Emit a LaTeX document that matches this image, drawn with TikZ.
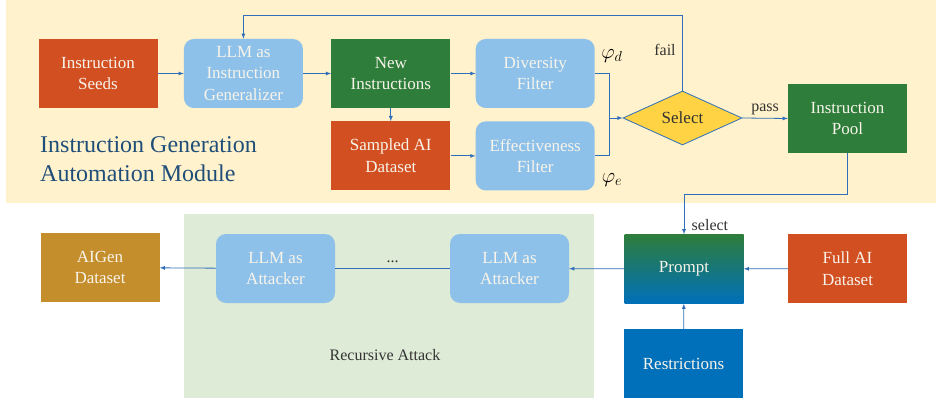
\documentclass[tikz,border=0pt]{standalone}
\usepackage{fontspec}
\setmainfont{Liberation Serif}
\usetikzlibrary{shapes.geometric, positioning}

\definecolor{seedred}{HTML}{D24F22}
\definecolor{llmblue}{HTML}{8EC1E9}
\definecolor{newgreen}{HTML}{2E7D3B}
\definecolor{aigold}{HTML}{C48E2C}
\definecolor{restblue}{HTML}{0070BA}
\definecolor{promptteal}{HTML}{0E7A6C}
\definecolor{bgyellow}{HTML}{FFF2CC}
\definecolor{bggreen}{HTML}{DEEBD6}
\definecolor{selyellow}{HTML}{FFD343}
\definecolor{linkblue}{HTML}{2F6EBA}
\definecolor{boxtext}{HTML}{F8F4EA}
\definecolor{titleblue}{HTML}{1F4E79}
\definecolor{labelgray}{HTML}{333333}

\tikzset{
	box/.style={minimum width=119pt, minimum height=69pt, inner sep=2pt, align=center,
		text=boxtext, font=\fontsize{17}{21.5}\selectfont},
	redbox/.style={box, fill=seedred},
	greenbox/.style={box, fill=newgreen},
	llmbox/.style={box, fill=llmblue, rounded corners=10pt},
	link/.style={draw=linkblue, line width=0.8pt},
	lbl/.style={text=labelgray, font=\fontsize{16}{19}\selectfont},
	phi/.style={text=black, font=\fontsize{20}{22}\selectfont}
}

\begin{document}
\begin{tikzpicture}[x=1pt, y=-1pt, >=latex, node distance=26pt]

	\useasboundingbox (0,0) rectangle (936,406);
	\fill[bgyellow] (6,0) rectangle (936,203);
	\fill[bggreen] (184,214) rectangle (594,398);

	% instruction generation
	\node[redbox] (seeds) at (98,73.5) {Instruction\\Seeds};
	\node[llmbox, right=of seeds] (gen) {LLM as\\Instruction\\Generalizer};
	\node[greenbox, right=28pt of gen] (newins) {New\\Instructions};
	\node[redbox, below=13pt of newins] (sampled) {Sampled AI\\Dataset};
	\node[llmbox, right=25pt of newins] (div) {Diversity\\Filter};
	\node[llmbox, below=13pt of div] (eff) {Effectiveness\\Filter};
	\node[diamond, aspect=2.2, minimum width=119pt, minimum height=54pt, inner sep=0pt,
		fill=selyellow, draw=linkblue, line width=0.8pt, text=labelgray,
		font=\fontsize{17}{20}\selectfont] (sel) at (682.5,118) {Select};
	\node[greenbox] (pool) at (847.5,118.5) {Instruction\\Pool};

	\node[text=titleblue, align=left, anchor=north west, inner sep=0pt,
		font=\fontsize{24}{29}\selectfont] (title) at (40,136) {Instruction Generation\\Automation Module};

	\node[phi] at (612,56) (phid) {$\varphi_d$};
	\node[phi] at (612,180) (phie) {$\varphi_e$};
	\node[lbl] at (665,50) (fail) {fail};

	% recursive attack
	\node[box, top color=newgreen, middle color=promptteal, bottom color=restblue] (prompt) at (684,269) {Prompt};
	\node[redbox] (full) at (847.5,268.5) {Full AI\\Dataset};
	\node[box, fill=restblue] (restr) at (683.5,363.5) {Restrictions};
	\node[llmbox] (att2) at (509.5,268.5) {LLM as\\Attacker};
	\node[llmbox] (att1) at (275.5,268.5) {LLM as\\Attacker};
	\node[box, fill=aigold] (aigen) at (100,267.5) {AIGen\\Dataset};
	\node[lbl] (rec) at (385,355) {Recursive Attack};

	\coordinate (join) at (609,118);
	\coordinate (failtop) at (682.5,15);
	\coordinate (poolturn) at (847.5,194);

	\draw[link, ->] (seeds) -- (gen);
	\draw[link, ->] (gen) -- (newins);
	\draw[link, ->] (newins) -- (div);
	\draw[link, ->] (newins) -- (sampled);
	\draw[link, ->] (sampled) -- (eff);
	\draw[link] (div.east) -| (join);
	\draw[link] (eff.east) -| (join);
	\draw[link, ->] (join) -- (sel.west);
	\draw[link, ->] (sel.north) -- (failtop) -| (gen.north);
	\draw[link, ->] (sel.east) -- node[lbl, above] {pass} (pool.west);
	\draw[link, ->] (pool.south) -- (poolturn) -| (prompt.north)
		node[lbl, pos=0.88, right=4pt] {select};
	\draw[link, ->] (full) -- (prompt);
	\draw[link, ->] (restr) -- (prompt);
	\draw[link, ->] (prompt) -- (att2);
	\draw[link] (att2) -- node[lbl, above=2pt] {...} (att1);
	\draw[link, ->] (att1) -- (aigen);

\end{tikzpicture}
\end{document}
